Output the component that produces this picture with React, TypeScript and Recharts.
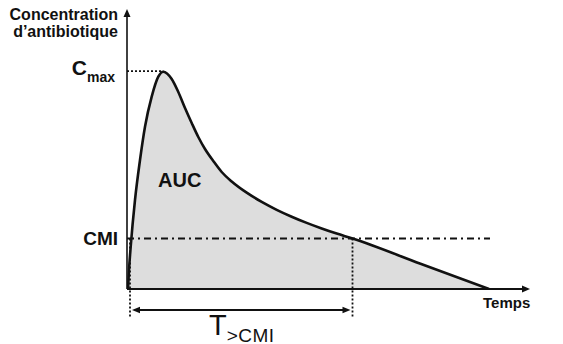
import React from 'react';
import { ComposedChart, Area, XAxis, YAxis, ReferenceLine, ReferenceDot } from 'recharts';

// Time (arbitrary units) and antibiotic concentration (arbitrary units)
const timeH = [0.1, 0.2, 0.37, 0.8, 1.3, 1.8, 2.47, 3.13, 3.63, 4.47, 5.13, 5.8, 6.47, 7.13, 7.8, 8.63, 9.47, 10.47, 11.97, 13.47, 14.97, 16.47, 17.97, 19.47, 20.97, 22.55, 29.35, 36.2];
const concentration = [0, 1.9, 4.23, 8.9, 12.9, 16.23, 19.23, 21.23, 21.73, 21.0, 19.7, 18.1, 16.6, 15.2, 14.0, 12.8, 11.7, 10.75, 9.63, 8.71, 7.92, 7.23, 6.61, 6.05, 5.54, 5.05, 2.53, 0];

const CMI = 5.05;
const CMAX = 21.73;
const T_CMAX = 3.63;
const T_CMI_START = 0.3;
const T_CMI_END = 22.55;
const CMI_LINE_END = 36.3;
const X_MAX = 40.3;
const Y_MAX = 28;

const yTitle = ['Concentration', 'd’antibiotique'];
const xTitle = 'Temps';
const aucLabel = 'AUC';
const cmiLabel = 'CMI';
const cmaxLabel = ['C', 'max'];
const tLabel = ['T', '>CMI'];

const data = timeH.map((t, i) => ({ t, c: concentration[i] }));

const FONT = '"Liberation Sans", Arial, Helvetica, sans-serif';
const INK = '#111';

const textShape = (
  content: React.ReactNode,
  anchor: 'start' | 'end' | 'middle',
  fontSize: number,
  fontWeight: string | number = 'bold',
  extra: any = {}
) => (p: any) => (
  <text
    x={p.cx}
    y={p.cy}
    textAnchor={anchor}
    fontFamily={FONT}
    fontSize={fontSize}
    fontWeight={fontWeight}
    fill={INK}
    {...extra}
  >
    {content}
  </text>
);

const arrowShape = (dir: 'up' | 'right' | 'left', len: number, half: number) => (p: any) => {
  const { cx, cy } = p;
  let d = '';
  if (dir === 'up') d = `M${cx},${cy} L${cx - half},${cy + len} L${cx + half},${cy + len} Z`;
  if (dir === 'right') d = `M${cx},${cy} L${cx - len},${cy - half} L${cx - len},${cy + half} Z`;
  if (dir === 'left') d = `M${cx},${cy} L${cx + len},${cy - half} L${cx + len},${cy + half} Z`;
  return <path d={d} fill={INK} stroke="none" />;
};

export default function App() {
  return (
    <div style={{ position: 'absolute', left: 0, top: 0, width: 563, height: 344, background: '#fff' }}>
      <ComposedChart
        width={563}
        height={344}
        data={data}
        margin={{ top: 9, right: 33, bottom: 55, left: 127 }}
      >
        <XAxis dataKey="t" type="number" domain={[0, X_MAX]} allowDataOverflow hide />
        <YAxis type="number" domain={[0, Y_MAX]} allowDataOverflow hide />

        <Area
          type="monotone"
          dataKey="c"
          stroke={INK}
          strokeWidth={2.6}
          fill="#dddddd"
          fillOpacity={1}
          isAnimationActive={false}
          dot={false}
          activeDot={false}
        />

        {/* axes */}
        <ReferenceLine segment={[{ x: 0, y: 0 }, { x: 0, y: Y_MAX - 0.6 }]} stroke={INK} strokeWidth={1.6} ifOverflow="visible" />
        <ReferenceLine segment={[{ x: 0, y: 0 }, { x: X_MAX - 0.6, y: 0 }]} stroke={INK} strokeWidth={1.8} ifOverflow="visible" />
        <ReferenceDot x={0} y={Y_MAX} ifOverflow="visible" shape={arrowShape('up', 8, 3.5)} />
        <ReferenceDot x={X_MAX} y={0} ifOverflow="visible" shape={arrowShape('right', 8, 3.5)} />

        {/* Cmax dotted line */}
        <ReferenceLine segment={[{ x: 0, y: CMAX + 0.05 }, { x: T_CMAX, y: CMAX + 0.05 }]} stroke={INK} strokeWidth={1.8} strokeDasharray="2 2" ifOverflow="visible" />

        {/* CMI dash-dot line */}
        <ReferenceLine segment={[{ x: 0, y: CMI }, { x: CMI_LINE_END, y: CMI }]} stroke={INK} strokeWidth={1.8} strokeDasharray="7 4 2 4" ifOverflow="visible" />

        {/* vertical dotted lines */}
        <ReferenceLine segment={[{ x: T_CMI_START, y: CMI }, { x: T_CMI_START, y: -2.9 }]} stroke={INK} strokeWidth={1.8} strokeDasharray="2 2" ifOverflow="visible" />
        <ReferenceLine segment={[{ x: T_CMI_END, y: CMI }, { x: T_CMI_END, y: -2.9 }]} stroke={INK} strokeWidth={1.8} strokeDasharray="2 2" ifOverflow="visible" />

        {/* T>CMI double arrow */}
        <ReferenceLine segment={[{ x: T_CMI_START + 0.5, y: -2.1 }, { x: T_CMI_END - 0.5, y: -2.1 }]} stroke={INK} strokeWidth={2.2} ifOverflow="visible" />
        <ReferenceDot x={T_CMI_START + 0.2} y={-2.1} ifOverflow="visible" shape={arrowShape('left', 8, 3.2)} />
        <ReferenceDot x={T_CMI_END - 0.2} y={-2.1} ifOverflow="visible" shape={arrowShape('right', 8, 3.2)} />

        {/* texts */}
        <ReferenceDot x={-0.9} y={26.9} ifOverflow="visible" shape={textShape(yTitle[0], 'end', 16)} />
        <ReferenceDot x={-0.9} y={25.2} ifOverflow="visible" shape={textShape(yTitle[1], 'end', 16)} />
        <ReferenceDot
          x={-1.2}
          y={21.4}
          ifOverflow="visible"
          shape={textShape(
            [
              <tspan key="c" fontSize={21}>{cmaxLabel[0]}</tspan>,
              <tspan key="m" fontSize={14} dy={7}>{cmaxLabel[1]}</tspan>,
            ],
            'end',
            21
          )}
        />
        <ReferenceDot x={-0.9} y={4.4} ifOverflow="visible" shape={textShape(cmiLabel, 'end', 19)} />
        <ReferenceDot x={3.1} y={10.2} ifOverflow="visible" shape={textShape(aucLabel, 'start', 20)} />
        <ReferenceDot x={35.6} y={-1.9} ifOverflow="visible" shape={textShape(xTitle, 'start', 15)} />
        <ReferenceDot
          x={8.2}
          y={-4.6}
          ifOverflow="visible"
          shape={textShape(
            [
              <tspan key="t" fontSize={29}>{tLabel[0]}</tspan>,
              <tspan key="s" fontSize={19} dy={6.5} letterSpacing={0.5}>{tLabel[1]}</tspan>,
            ],
            'start',
            29,
            'normal'
          )}
        />
      </ComposedChart>
    </div>
  );
}
